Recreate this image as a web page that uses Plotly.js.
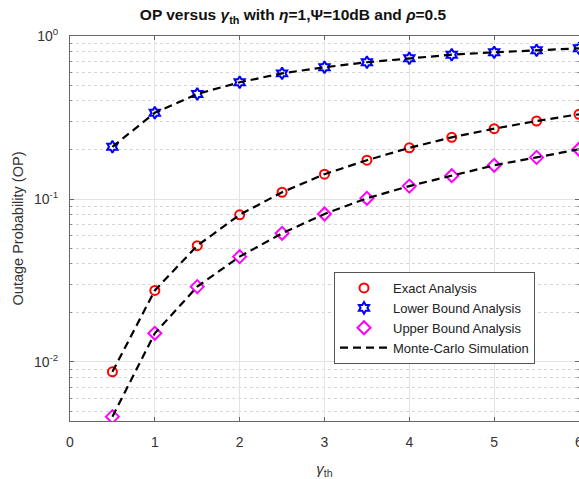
<!DOCTYPE html>
<html>
<head>
<meta charset="utf-8">
<script src="https://cdn.plot.ly/plotly-3.0.1.min.js"></script>
<style>html,body{margin:0;padding:0;background:#fff;}#chart{width:579px;height:479px;}</style>
</head>
<body>
<div id="chart"></div>
<script>
const gammaTh = [0.5, 1, 1.5, 2, 2.5, 3, 3.5, 4, 4.5, 5, 5.5, 6];
const exactOP = [0.0087, 0.0275, 0.0517, 0.080, 0.110, 0.142, 0.173, 0.206, 0.239, 0.270, 0.301, 0.331];
const lowerOP = [0.209, 0.338, 0.441, 0.520, 0.590, 0.643, 0.690, 0.730, 0.768, 0.794, 0.817, 0.840];
const upperOP = [0.00462, 0.0150, 0.0290, 0.0443, 0.0616, 0.0809, 0.101, 0.120, 0.139, 0.161, 0.180, 0.202];
const yTickVals = [0.01, 0.1, 1];
const yTickText = ['10<sup>-2</sup>', '10<sup>-1</sup>', '10<sup>0</sup>'];
const xTickVals = [0, 1, 2, 3, 4, 5, 6];

const mk = (name, y, symbol, color, size) => ({
  x: gammaTh, y: y, name: name, type: 'scatter', mode: 'markers',
  marker: {symbol: symbol, size: size, color: color, line: {color: color, width: 2}}
});
const ln = (y, show) => ({
  x: gammaTh, y: y, name: 'Monte-Carlo Simulation', type: 'scatter', mode: 'lines',
  legendgroup: 'mc', showlegend: show,
  line: {color: '#000', width: 2.2, dash: '8px,5px'}
});

const data = [
  mk('Exact Analysis', exactOP, 'circle-open', '#ff0000', 9),
  mk('Lower Bound Analysis', lowerOP, 'hexagram-open', '#0000ff', 9),
  mk('Upper Bound Analysis', upperOP, 'diamond-open', '#ff00ff', 10),
  ln(exactOP, true), ln(lowerOP, false), ln(upperOP, false)
];

const fontFam = '"Liberation Sans", Arial, sans-serif';
const layout = {
  width: 579, height: 479,
  margin: {l: 70, r: 0, t: 36, b: 58},
  paper_bgcolor: '#fff', plot_bgcolor: '#fff',
  font: {family: fontFam, size: 14, color: '#333'},
  title: {text: '<b>OP versus <i>γ</i><sub>th</sub> with <i>η</i>=1,Ψ=10dB and <i>ρ</i>=0.5</b>',
          font: {family: fontFam, size: 15.5, color: '#111'},
          x: 293/579, xanchor: 'center', xref: 'container', y: 1 - 15/479, yanchor: 'middle'},
  xaxis: {
    range: [0, 6], tickvals: xTickVals, ticks: 'inside', ticklen: 4, tickcolor: '#666',
    showline: true, linecolor: '#666', linewidth: 1, mirror: 'ticks',
    showgrid: true, gridcolor: '#e3e3e3', gridwidth: 1, zeroline: false,
    ticklabelstandoff: 8, ticklabeloverflow: 'allow',
    tickfont: {size: 14, color: '#333'},
    title: {text: '<i>γ</i><sub>th</sub>', font: {size: 15, color: '#333'}, standoff: 14}
  },
  yaxis: {
    type: 'log', range: [-2.362, 0], tickvals: yTickVals, ticktext: yTickText,
    ticks: 'inside', ticklen: 4, tickcolor: '#666',
    showline: true, linecolor: '#666', linewidth: 1, mirror: 'ticks',
    showgrid: true, gridcolor: '#e3e3e3', gridwidth: 1, zeroline: false,
    ticklabelstandoff: 8,
    minor: {dtick: 'D1', showgrid: true, gridcolor: '#d6d6d6', griddash: 'dot', ticks: 'inside', ticklen: 2, tickcolor: '#888'},
    tickfont: {size: 14, color: '#333'},
    title: {text: 'Outage Probability (OP)', font: {size: 14.5, color: '#333'}, standoff: 6}
  },
  legend: {
    x: (334 - 70) / 509, y: (421 - 272) / 385, xanchor: 'left', yanchor: 'top',
    bgcolor: '#fff', bordercolor: '#555', borderwidth: 1,
    font: {family: fontFam, size: 13, color: '#222'},
    itemwidth: 48, tracegroupgap: 0
  },
  showlegend: true
};

Plotly.newPlot('chart', data, layout, {displayModeBar: false, staticPlot: true});
</script>
</body>
</html>
